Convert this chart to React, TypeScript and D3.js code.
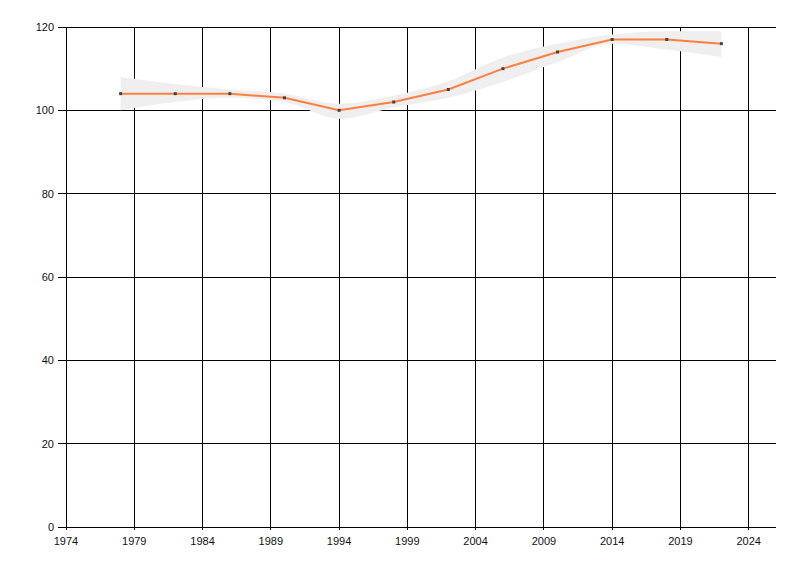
import React from "react";
import * as d3 from "d3";

const years = [1978, 1982, 1986, 1990, 1994, 1998, 2002, 2006, 2010, 2014, 2018, 2022];
const values = [104, 104, 104, 103, 100, 102, 105, 110, 114, 117, 117, 116];
const upper = [108, 106.3, 105, 104, 101.6, 103.5, 107, 112.7, 116, 118.2, 119, 119];
const lower = [100, 102, 103, 102, 98, 100.7, 103, 106.8, 111.6, 116, 114.6, 112.8];
const xTicks = [1974, 1979, 1984, 1989, 1994, 1999, 2004, 2009, 2014, 2019, 2024];
const yTicks = [0, 20, 40, 60, 80, 100, 120];

export default function App() {
  const W = 800, H = 576;
  const left = 66, right = 776, top = 27, bottom = 527;
  const x = d3.scaleLinear().domain([1974, 2026]).range([left, right]);
  const y = d3.scaleLinear().domain([0, 120]).range([bottom, top]);
  const idx = years.map((_, i) => i);
  const band = d3
    .area<number>()
    .x((i) => x(years[i]))
    .y0((i) => y(lower[i]))
    .y1((i) => y(upper[i]))
    .curve(d3.curveMonotoneX)(idx) as string;
  const line = d3
    .line<number>()
    .x((i) => x(years[i]))
    .y((i) => y(values[i]))(idx) as string;
  const font = "'Liberation Sans', Arial, sans-serif";
  return (
    <svg
      width={W}
      height={H}
      style={{ position: "absolute", left: 0, top: 0, background: "#fff" }}
    >
      {yTicks.map((t) => (
        <line key={"h" + t} x1={left - 8} x2={right} y1={y(t)} y2={y(t)} stroke="#000" strokeWidth={1} shapeRendering="crispEdges" />
      ))}
      {xTicks.map((t) => (
        <line key={"v" + t} x1={x(t)} x2={x(t)} y1={top} y2={bottom + 3} stroke="#000" strokeWidth={1} shapeRendering="crispEdges" />
      ))}
      <line x1={left} x2={left} y1={top} y2={bottom} stroke="#000" shapeRendering="crispEdges" />
      <path d={band} fill="#efefef" stroke="none" />
      <path d={line} fill="none" stroke="#ff7f3f" strokeWidth={2} />
      {years.map((yr, i) => (
        <rect key={"p" + yr} x={x(yr) - 1.5} y={y(values[i]) - 1.5} width={3} height={3} fill="#444" />
      ))}
      {yTicks.map((t) => (
        <text key={"yl" + t} x={left - 12} y={y(t) + 4} textAnchor="end" fontFamily={font} fontSize={11} fill="#111">
          {t}
        </text>
      ))}
      {xTicks.map((t) => (
        <text key={"xl" + t} x={x(t)} y={545} textAnchor="middle" fontFamily={font} fontSize={11} fill="#111">
          {t}
        </text>
      ))}
    </svg>
  );
}
